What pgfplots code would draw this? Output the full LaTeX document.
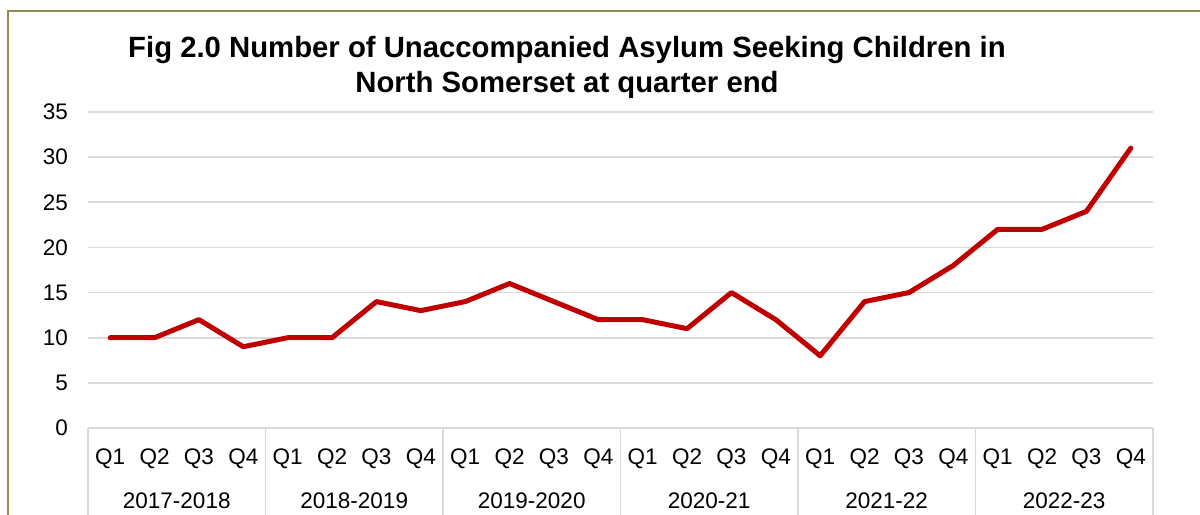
\documentclass[border=0pt]{standalone}
\usepackage{pgfplots}
\pgfplotsset{compat=1.18}
\usepackage{fontspec}
\setmainfont{Liberation Sans}
\definecolor{seriesred}{HTML}{C00000}
\definecolor{gridgray}{HTML}{D9D9D9}
\definecolor{frameolive}{HTML}{948A54}

\begin{document}
\begin{tikzpicture}
\useasboundingbox (0bp,0bp) rectangle (1200bp,515bp);
\clip (0bp,0bp) rectangle (1200bp,515bp);
% chart frame
\draw[frameolive, line width=2bp] (8bp,-20bp) -- (8bp,504bp) -- (1230bp,504bp);
% title
\node[anchor=base, inner sep=0pt, font=\fontsize{29.3bp}{35bp}\selectfont\bfseries]
  at (567bp,457bp) {Fig 2.0 Number of Unaccompanied Asylum Seeking Children in};
\node[anchor=base, inner sep=0pt, font=\fontsize{29.3bp}{35bp}\selectfont\bfseries]
  at (567bp,422bp) {North Somerset at quarter end};
\begin{axis}[
  at={(88bp,87bp)}, anchor=south west,
  scale only axis, width=1065bp, height=316bp,
  xmin=-0.5, xmax=23.5, ymin=0, ymax=35,
  ytick={0,5,...,35},
  xtick={0,...,23},
  xticklabels={Q1,Q2,Q3,Q4,Q1,Q2,Q3,Q4,Q1,Q2,Q3,Q4,Q1,Q2,Q3,Q4,Q1,Q2,Q3,Q4,Q1,Q2,Q3,Q4},
  axis line style={draw=none},
  major tick length=0pt,
  ymajorgrids,
  grid style={gridgray, line width=1.6bp},
  /pgf/number format/assume math mode=true,
  tick label style={font=\fontsize{22.5bp}{27bp}\selectfont},
  yticklabel style={anchor=east, inner sep=0pt, xshift=-20bp},
  xticklabel style={anchor=base, inner sep=0pt, yshift=-36bp},
  clip=false,
]
% group separators below the axis
\pgfplotsinvokeforeach{-0.5,3.5,7.5,11.5,15.5,19.5,23.5}{
  \draw[gridgray, line width=1.6bp] (axis cs:#1,0) -- ++(0bp,-120bp);
}
% financial year labels
\node[anchor=base, inner sep=0pt, font=\fontsize{22.5bp}{27bp}\selectfont, yshift=-80bp] at (axis cs:1.5,0) {2017-2018};
\node[anchor=base, inner sep=0pt, font=\fontsize{22.5bp}{27bp}\selectfont, yshift=-80bp] at (axis cs:5.5,0) {2018-2019};
\node[anchor=base, inner sep=0pt, font=\fontsize{22.5bp}{27bp}\selectfont, yshift=-80bp] at (axis cs:9.5,0) {2019-2020};
\node[anchor=base, inner sep=0pt, font=\fontsize{22.5bp}{27bp}\selectfont, yshift=-80bp] at (axis cs:13.5,0) {2020-21};
\node[anchor=base, inner sep=0pt, font=\fontsize{22.5bp}{27bp}\selectfont, yshift=-80bp] at (axis cs:17.5,0) {2021-22};
\node[anchor=base, inner sep=0pt, font=\fontsize{22.5bp}{27bp}\selectfont, yshift=-80bp] at (axis cs:21.5,0) {2022-23};
% children at quarter end
\addplot[seriesred, line width=5bp, line join=round, line cap=round] coordinates {
  (0,10) (1,10) (2,12) (3,9)
  (4,10) (5,10) (6,14) (7,13)
  (8,14) (9,16) (10,14) (11,12)
  (12,12) (13,11) (14,15) (15,12)
  (16,8) (17,14) (18,15) (19,18)
  (20,22) (21,22) (22,24) (23,31)
};
\end{axis}
\end{tikzpicture}
\end{document}
